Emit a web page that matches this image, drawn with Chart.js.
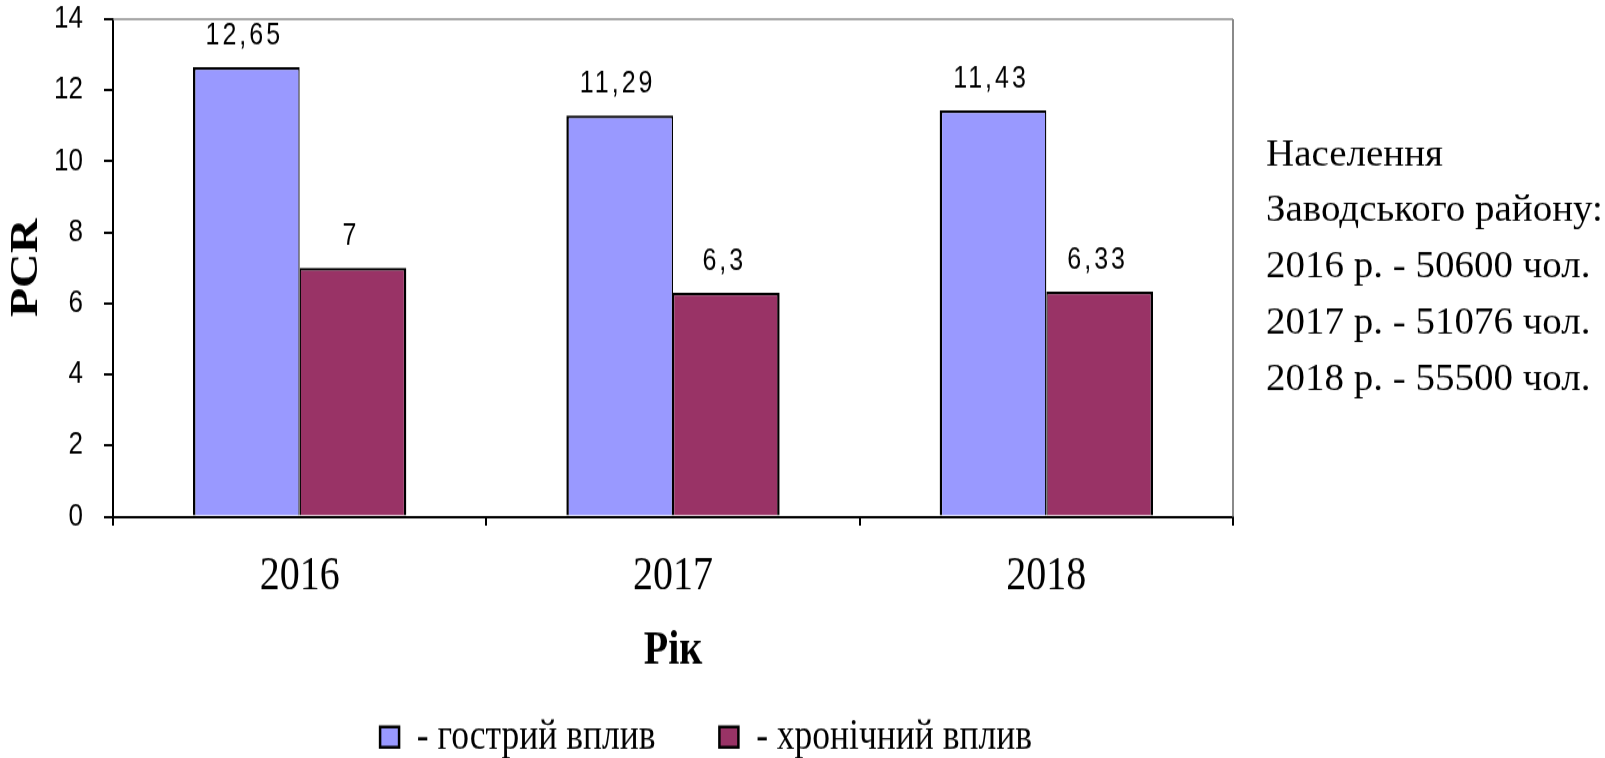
<!DOCTYPE html>
<html>
<head>
<meta charset="utf-8">
<script src="https://cdn.jsdelivr.net/npm/chart.js@4/dist/chart.umd.min.js"></script>
<style>
  html, body { margin: 0; padding: 0; background: #fff; overflow: hidden; }
  #outer { width: 1605px; height: 758px; overflow: hidden; position: relative; }
  #wrap { position: absolute; left: 0; top: 0; width: 1605px; height: 642px; transform: scale(1, 1.2); transform-origin: 0 0; }
  canvas { display: block; }
</style>
</head>
<body>
<div id="outer"><div id="wrap"><canvas id="c" width="1605" height="642"></canvas></div></div>
<script>
// ---- data ----
const categories = ['2016', '2017', '2018'];
const acuteValues = [12.65, 11.29, 11.43];
const chronicValues = [7, 6.3, 6.33];
const seriesNames = ['- гострий вплив', '- хронічний вплив'];
const yMin = 0, yMax = 14, yStep = 2;
const yTitle = 'PCR';
const xTitle = 'Рік';
const noteHeader = ['Населення', 'Заводського району:'];
const popYears = [2016, 2017, 2018];
const population = [50600, 51076, 55500];

// ---- style ----
const STRETCH = 1.2;
const SERIF = '"Liberation Serif", "Times New Roman", serif';
const SANS = '"Liberation Sans", Arial, sans-serif';
const colors = { acute: '#9999FF', chronic: '#993366' };

const fmt = v => String(v).replace('.', ',');

const valueLabels = {
  id: 'valueLabels',
  afterDatasetsDraw(chart) {
    const ctx = chart.ctx;
    ctx.save();
    ctx.font = '25px ' + SANS;
    try { ctx.letterSpacing = '3px'; } catch (e) {}
    ctx.fillStyle = '#000';
    ctx.textAlign = 'center';
    ctx.textBaseline = 'middle';
    chart.data.datasets.forEach((ds, i) => {
      chart.getDatasetMeta(i).data.forEach((bar, j) => {
        ctx.fillText(fmt(ds.data[j]), bar.x - 2, bar.y - 26);
      });
    });
    ctx.restore();
  }
};

const frameAndNote = {
  id: 'frameAndNote',
  beforeDatasetsDraw(chart) {
    const ctx = chart.ctx, a = chart.chartArea;
    ctx.save();
    ctx.strokeStyle = '#8a8a8a';
    ctx.lineWidth = 1.7;
    ctx.beginPath();
    ctx.moveTo(a.left, a.top);
    ctx.lineTo(a.right, a.top);
    ctx.stroke();
    ctx.lineWidth = 2;
    ctx.beginPath();
    ctx.moveTo(a.right, a.top);
    ctx.lineTo(a.right, a.bottom);
    ctx.stroke();
    ctx.restore();
  },
  afterDraw(chart) {
    const ctx = chart.ctx;
    const lines = noteHeader.concat(popYears.map((y, i) => y + ' р. - ' + population[i] + ' чол.'));
    ctx.save();
    ctx.scale(1, 1 / STRETCH);
    ctx.font = '39px ' + SERIF;
    ctx.fillStyle = '#000';
    ctx.textAlign = 'left';
    ctx.textBaseline = 'alphabetic';
    const x0 = chart.chartArea.right + 33;
    lines.forEach((t, i) => ctx.fillText(t, x0, 165 + i * 56.3));
    ctx.restore();
  }
};

new Chart(document.getElementById('c'), {
  type: 'bar',
  data: {
    labels: categories,
    datasets: [
      {
        label: seriesNames[0], data: acuteValues,
        backgroundColor: colors.acute, borderColor: '#000',
        borderWidth: { top: 2.2, left: 2.5, right: 1.3, bottom: 0 }
      },
      {
        label: seriesNames[1], data: chronicValues,
        backgroundColor: colors.chronic, borderColor: '#000',
        borderWidth: { top: 2.2, left: 1.3, right: 2.5, bottom: 0 }
      }
    ]
  },
  options: {
    responsive: false,
    animation: false,
    devicePixelRatio: 1,
    layout: { padding: { left: 0, top: 16, right: 193, bottom: 0 } },
    datasets: { bar: { categoryPercentage: 2 / 3.5, barPercentage: 1 } },
    plugins: {
      tooltip: { enabled: false },
      legend: {
        position: 'bottom',
        labels: {
          font: { family: SERIF, size: 35.5 },
          color: '#000',
          boxWidth: 19,
          boxHeight: 17,
          padding: 64,
          generateLabels(chart) {
            const items = Chart.defaults.plugins.legend.labels.generateLabels(chart);
            items.forEach(it => { it.lineWidth = 2.5; it.strokeStyle = '#000'; });
            return items;
          }
        }
      }
    },
    scales: {
      x: {
        grid: { display: true, drawOnChartArea: false, offset: true, tickLength: 7.5, color: '#000', lineWidth: 2 },
        border: { display: true, color: '#000', width: 2 },
        ticks: { font: { family: SERIF, size: 40 }, color: '#000', padding: 18.5 },
        title: {
          display: true, text: xTitle, color: '#000',
          font: { family: SERIF, size: 40, weight: 'bold' },
          padding: { top: 0, bottom: -33.7 }
        },
        afterFit(s) { s.height = 102; s.paddingLeft = 0; s.paddingRight = 0; }
      },
      y: {
        min: yMin, max: yMax,
        grid: { display: true, drawOnChartArea: false, tickLength: 9, color: '#000', lineWidth: 2 },
        border: { display: true, color: '#000', width: 2 },
        ticks: { stepSize: yStep, font: { family: SANS, size: 26 }, color: '#000', padding: 21 },
        title: {
          display: true, text: yTitle, color: '#000',
          font: { family: SERIF, size: 40, weight: 'bold' },
          padding: { top: 3, bottom: 0 }
        },
        afterFit(s) { s.width = 113; s.paddingTop = 0; s.paddingBottom = 0; }
      },
      y2: {
        position: 'right',
        display: true,
        grid: { display: false },
        border: { display: false },
        ticks: { display: false },
        afterFit(s) { s.width = 179; s.paddingTop = 0; s.paddingBottom = 0; }
      }
    }
  },
  plugins: [valueLabels, frameAndNote]
});
</script>
</body>
</html>
